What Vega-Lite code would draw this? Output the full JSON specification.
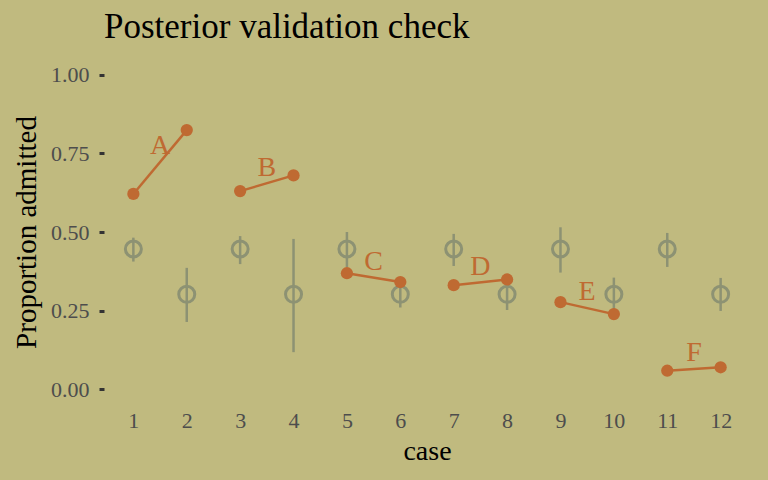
{
  "$schema": "https://vega.github.io/schema/vega-lite/v6.json",
  "width": 646,
  "height": 346,
  "autosize": {"type": "none"},
  "padding": {"left": 104, "top": 59, "right": 18, "bottom": 75},
  "background": "#C0BA7F",
  "config": {
    "view": {"stroke": null},
    "font": "Liberation Serif"
  },
  "title": {
    "text": "Posterior validation check",
    "font": "Liberation Serif",
    "fontSize": 35,
    "fontWeight": "normal",
    "color": "#000000",
    "anchor": "start",
    "frame": "group",
    "offset": 14
  },
  "datasets": {
    "cases": [
      {"case": 1, "dept": "A", "obs": 0.621, "pred": 0.446, "lo": 0.406, "hi": 0.482},
      {"case": 2, "dept": "A", "obs": 0.824, "pred": 0.302, "lo": 0.214, "hi": 0.386},
      {"case": 3, "dept": "B", "obs": 0.630, "pred": 0.446, "lo": 0.398, "hi": 0.487},
      {"case": 4, "dept": "B", "obs": 0.680, "pred": 0.302, "lo": 0.118, "hi": 0.478},
      {"case": 5, "dept": "C", "obs": 0.369, "pred": 0.446, "lo": 0.388, "hi": 0.500},
      {"case": 6, "dept": "C", "obs": 0.341, "pred": 0.302, "lo": 0.260, "hi": 0.345},
      {"case": 7, "dept": "D", "obs": 0.331, "pred": 0.446, "lo": 0.392, "hi": 0.494},
      {"case": 8, "dept": "D", "obs": 0.349, "pred": 0.302, "lo": 0.252, "hi": 0.348},
      {"case": 9, "dept": "E", "obs": 0.277, "pred": 0.446, "lo": 0.371, "hi": 0.515},
      {"case": 10, "dept": "E", "obs": 0.239, "pred": 0.302, "lo": 0.247, "hi": 0.355},
      {"case": 11, "dept": "F", "obs": 0.059, "pred": 0.446, "lo": 0.389, "hi": 0.497},
      {"case": 12, "dept": "F", "obs": 0.070, "pred": 0.302, "lo": 0.249, "hi": 0.354}
    ],
    "labels": [
      {"case": 1.5, "dept": "A", "y": 0.772},
      {"case": 3.5, "dept": "B", "y": 0.705},
      {"case": 5.5, "dept": "C", "y": 0.405},
      {"case": 7.5, "dept": "D", "y": 0.390},
      {"case": 9.5, "dept": "E", "y": 0.308},
      {"case": 11.5, "dept": "F", "y": 0.115}
    ]
  },
  "data": {"name": "cases"},
  "layer": [
    {
      "mark": {"type": "rule", "color": "#8D9273", "strokeWidth": 2.5},
      "encoding": {
        "x": {
          "field": "case", "type": "quantitative",
          "scale": {"domain": [0.45, 12.55], "nice": false, "zero": false},
          "axis": {
            "values": [1, 2, 3, 4, 5, 6, 7, 8, 9, 10, 11, 12],
            "title": "case",
            "grid": false, "domain": false, "ticks": false,
            "labelFont": "Liberation Serif", "labelFontSize": 22, "labelColor": "#4D4D4D",
            "labelPadding": 5,
            "titleFont": "Liberation Serif", "titleFontSize": 28, "titleFontWeight": "normal",
            "titleColor": "#000000", "titlePadding": 6
          }
        },
        "y": {
          "field": "lo", "type": "quantitative",
          "scale": {"domain": [-0.05, 1.05], "nice": false, "zero": false},
          "axis": {
            "values": [0, 0.25, 0.5, 0.75, 1],
            "format": ".2f",
            "title": "Proportion admitted",
            "grid": false, "domain": false,
            "ticks": true, "tickSize": 5, "tickWidth": 3, "tickColor": "#333333",
            "labelFont": "Liberation Serif", "labelFontSize": 22, "labelColor": "#4D4D4D",
            "labelPadding": 10,
            "titleFont": "Liberation Serif", "titleFontSize": 29, "titleFontWeight": "normal",
            "titleColor": "#000000", "titlePadding": 9
          }
        },
        "y2": {"field": "hi"}
      }
    },
    {
      "mark": {"type": "point", "shape": "circle", "filled": false, "color": "#8D9273", "strokeWidth": 3, "size": 256, "opacity": 1},
      "encoding": {
        "x": {"field": "case", "type": "quantitative"},
        "y": {"field": "pred", "type": "quantitative"}
      }
    },
    {
      "mark": {"type": "line", "color": "#BF6A32", "strokeWidth": 2.5},
      "encoding": {
        "x": {"field": "case", "type": "quantitative"},
        "y": {"field": "obs", "type": "quantitative"},
        "detail": {"field": "dept", "type": "nominal"}
      }
    },
    {
      "mark": {"type": "point", "shape": "circle", "filled": true, "color": "#BF6A32", "size": 150, "opacity": 1},
      "encoding": {
        "x": {"field": "case", "type": "quantitative"},
        "y": {"field": "obs", "type": "quantitative"}
      }
    },
    {
      "data": {"name": "labels"},
      "mark": {"type": "text", "font": "Liberation Serif", "fontSize": 28, "color": "#BF6A32", "baseline": "middle", "align": "center"},
      "encoding": {
        "x": {"field": "case", "type": "quantitative"},
        "y": {"field": "y", "type": "quantitative"},
        "text": {"field": "dept", "type": "nominal"}
      }
    }
  ]
}
